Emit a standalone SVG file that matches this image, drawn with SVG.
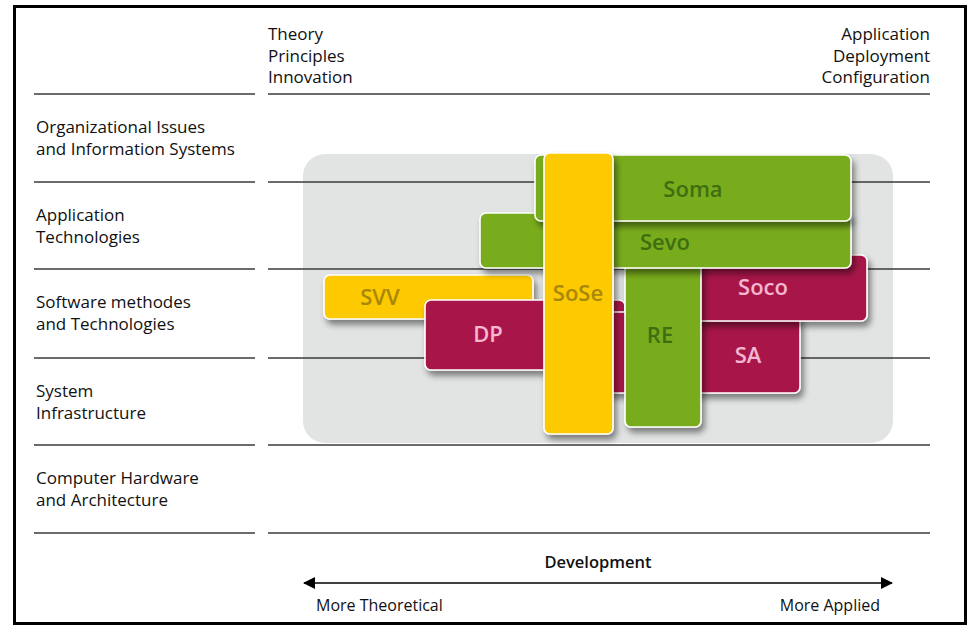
<svg xmlns="http://www.w3.org/2000/svg" width="971" height="628" viewBox="0 0 971 628">
<defs>
<style>
.lbl{font-family:"Open Sans","Noto Sans",sans-serif;font-size:17px;fill:#111111}
.ax{font-family:"Open Sans","Noto Sans",sans-serif;font-size:16px;fill:#111111}
.dev{font-family:"Open Sans","Noto Sans",sans-serif;font-size:16.5px;font-weight:600;fill:#111111}
.grid{stroke:#3a3a3a;stroke-width:1.3;fill:none}
.box{stroke:#ffffff;stroke-width:1.6;filter:url(#sh)}
.g{fill:#79ac1f}
.y{fill:#fdc900}
.r{fill:#a8174a}
.bt{font-family:"Open Sans","Noto Sans",sans-serif;font-size:22px;font-weight:600;text-anchor:middle}
.gt{fill:#3f6e12}
.yt{fill:#a8870a}
.rt{fill:#f4b6d0}
</style>
<filter id="sh" x="-20%" y="-20%" width="150%" height="160%">
<feDropShadow dx="3" dy="5" stdDeviation="3" flood-color="#000" flood-opacity="0.45"/>
</filter>
<marker id="ah" viewBox="0 0 12 12" refX="11" refY="6" markerWidth="12" markerHeight="12" markerUnits="userSpaceOnUse" orient="auto-start-reverse">
<path d="M0,0 L12,6 L0,12 Z" fill="#000"/>
</marker>
</defs>
<rect x="0" y="0" width="971" height="628" fill="#ffffff"/>
<rect x="14.5" y="6.5" width="951" height="617" fill="none" stroke="#000" stroke-width="3"/>

<g id="headers">
<text class="lbl" x="268" y="40">Theory</text>
<text class="lbl" x="268" y="61.5">Principles</text>
<text class="lbl" x="268" y="83">Innovation</text>
<text class="lbl" x="930" y="40" text-anchor="end">Application</text>
<text class="lbl" x="930" y="61.5" text-anchor="end">Deployment</text>
<text class="lbl" x="930" y="83" text-anchor="end">Configuration</text>
</g>

<g id="rows">
<text class="lbl" x="36" y="133">Organizational Issues</text>
<text class="lbl" x="36" y="154.5">and Information Systems</text>
<text class="lbl" x="36" y="221">Application</text>
<text class="lbl" x="36" y="242.5">Technologies</text>
<text class="lbl" x="36" y="308">Software methodes</text>
<text class="lbl" x="36" y="329.5">and Technologies</text>
<text class="lbl" x="36" y="397">System</text>
<text class="lbl" x="36" y="418.5">Infrastructure</text>
<text class="lbl" x="36" y="484">Computer Hardware</text>
<text class="lbl" x="36" y="505.5">and Architecture</text>
</g>

<rect id="area" x="303" y="154" width="590" height="289" rx="22" ry="22" fill="#e2e3e3"/>

<g id="grid" class="grid">
<line x1="34" y1="94" x2="255" y2="94"/>
<line x1="268" y1="94" x2="930" y2="94"/>
<line x1="34" y1="182" x2="255" y2="182"/>
<line x1="268" y1="182" x2="930" y2="182"/>
<line x1="34" y1="269" x2="255" y2="269"/>
<line x1="268" y1="269" x2="930" y2="269"/>
<line x1="34" y1="358" x2="255" y2="358"/>
<line x1="268" y1="358" x2="930" y2="358"/>
<line x1="34" y1="445" x2="255" y2="445"/>
<line x1="268" y1="445" x2="930" y2="445"/>
<line x1="34" y1="533" x2="255" y2="533"/>
<line x1="268" y1="533" x2="930" y2="533"/>
</g>

<g id="SVV"><rect class="box y" x="324" y="275" width="209" height="44" rx="6"/><text class="bt yt" x="380" y="305">SVV</text></g>
<g id="DP"><rect class="box r" x="425" y="300" width="200" height="70" rx="6"/><text class="bt rt" x="488" y="342">DP</text></g>
<g id="SA"><rect class="box r" x="590" y="312" width="210" height="81" rx="6"/><text class="bt rt" x="748" y="363">SA</text></g>
<g id="Soco"><rect class="box r" x="650" y="255" width="217" height="66" rx="6"/><text class="bt rt" x="763" y="295">Soco</text></g>
<g id="RE"><rect class="box g" x="625" y="258" width="76" height="169" rx="6"/><text class="bt gt" x="660" y="343">RE</text></g>
<g id="Sevo"><rect class="box g" x="480" y="213" width="371" height="55" rx="6"/><text class="bt gt" x="665" y="250">Sevo</text></g>
<g id="Soma"><rect class="box g" x="535" y="155" width="316" height="66" rx="6"/><text class="bt gt" x="693" y="197">Soma</text></g>
<g id="SoSe"><rect class="box y" x="544" y="153" width="69" height="281" rx="6"/><text class="bt yt" x="578" y="301">SoSe</text></g>

<g id="connectors">
<line x1="304" y1="583" x2="892" y2="583" stroke="#000" stroke-width="1.3" marker-start="url(#ah)" marker-end="url(#ah)"/>
</g>
<g id="axis-labels">
<text class="dev" x="598" y="568" text-anchor="middle">Development</text>
<text class="ax" x="316" y="611">More Theoretical</text>
<text class="ax" x="880" y="611" text-anchor="end">More Applied</text>
</g>
</svg>
